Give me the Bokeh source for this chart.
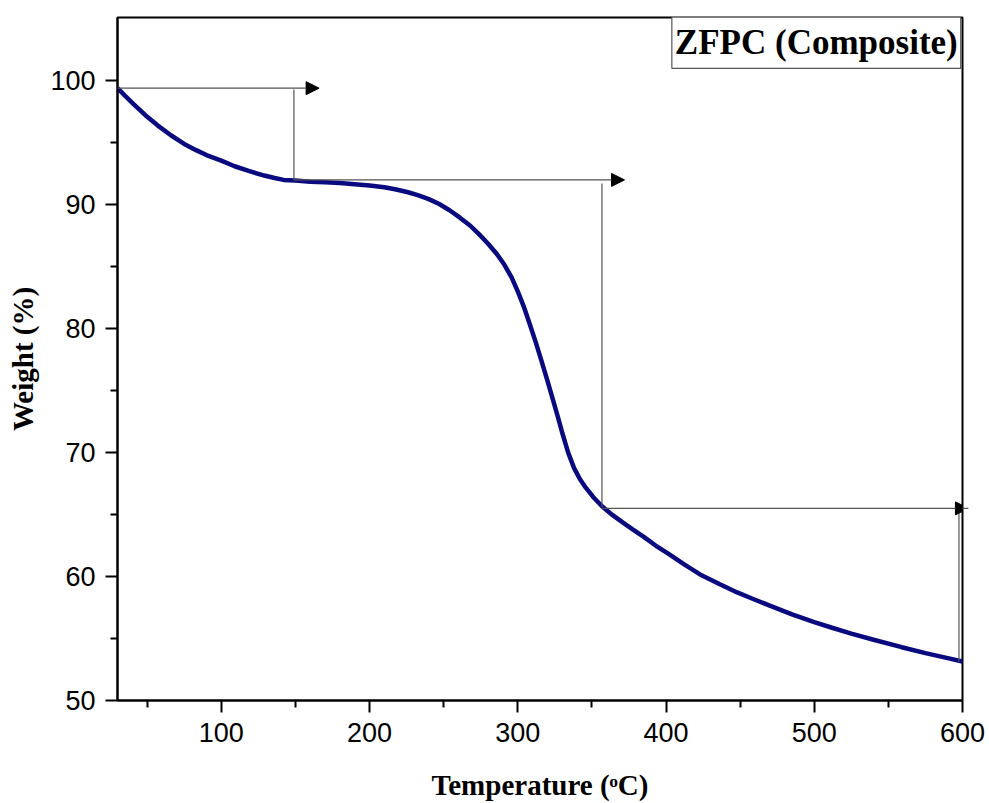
from bokeh.plotting import figure
from bokeh.models import Range1d, FixedTicker, Arrow, NormalHead, Label, ColumnDataSource
from bokeh.embed import file_html
from bokeh.resources import INLINE

# TGA curve
temperature = [30, 35, 41, 49, 57, 66, 75, 83, 90, 100, 109, 119, 129, 136, 142, 150, 160, 170,
               180, 190, 200, 210, 218, 226, 233, 240, 247, 254, 261, 268, 274, 280, 286, 291,
               296, 300, 304, 308, 312, 316, 320, 324, 327, 330, 334, 338, 342, 346, 351, 357,
               364, 371, 377, 385, 393, 402, 412, 424, 436, 448, 458, 470, 485, 500, 512, 525,
               540, 559, 575, 590, 600]
weight = [99.4, 98.8, 98.1, 97.2, 96.4, 95.6, 94.9, 94.4, 94.0, 93.55, 93.1, 92.7, 92.35, 92.15,
          92.0, 91.95, 91.85, 91.8, 91.75, 91.65, 91.55, 91.4, 91.22, 91.0, 90.75, 90.45, 90.05,
          89.55, 88.95, 88.3, 87.6, 86.85, 86.0, 85.15, 84.1, 83.0, 81.8, 80.4, 78.95, 77.4, 75.8,
          74.15, 72.9, 71.6, 70.0, 68.75, 67.85, 67.15, 66.4, 65.65, 64.95, 64.35, 63.85, 63.2,
          62.5, 61.8, 61.0, 60.1, 59.4, 58.72, 58.23, 57.65, 56.95, 56.32, 55.87, 55.4, 54.9,
          54.3, 53.82, 53.42, 53.15]

# step arrows (horizontal) and drop lines (vertical)
arrow_x_start = [30, 149, 357]
arrow_x_end = [166, 372, 604]
arrow_y = [99.4, 92.0, 65.5]
drop_x = [149, 356.8, 597.6]
drop_y_top = [99.3, 91.7, 65.3]
drop_y_bottom = [92.0, 65.6, 53.1]

x_major = [100, 200, 300, 400, 500, 600]
x_minor = [50, 150, 250, 350, 450, 550]
y_major = [50, 60, 70, 80, 90, 100]
y_minor = [55, 65, 75, 85, 95]

p = figure(width=989, height=803, output_backend="svg", toolbar_location=None,
           x_range=Range1d(30, 600), y_range=Range1d(50, 105.1),
           min_border_left=117, min_border_right=27, min_border_top=17, min_border_bottom=103)
p.background_fill_color = "white"
p.border_fill_color = "white"
p.outline_line_color = "black"
p.outline_line_width = 2
p.xgrid.visible = False
p.ygrid.visible = False

p.xaxis.ticker = FixedTicker(ticks=x_major, minor_ticks=x_minor)
p.yaxis.ticker = FixedTicker(ticks=y_major, minor_ticks=y_minor)

for ax in (p.xaxis[0], p.yaxis[0]):
    ax.axis_line_color = "black"
    ax.axis_line_width = 2
    ax.major_tick_line_color = "black"
    ax.major_tick_line_width = 2
    ax.minor_tick_line_color = "black"
    ax.minor_tick_line_width = 2
    ax.major_tick_in = 0
    ax.major_tick_out = 12
    ax.minor_tick_in = 0
    ax.minor_tick_out = 7
    ax.major_label_text_font = "Liberation Sans"
    ax.major_label_text_font_size = "27px"
    ax.major_label_text_color = "black"
    ax.major_label_standoff = 10
    ax.axis_label_text_font = "Liberation Serif"
    ax.axis_label_text_font_style = "bold"
    ax.axis_label_text_font_size = "29px"
    ax.axis_label_text_color = "black"

p.xaxis.axis_label = "Temperature (ᵒC)"
p.yaxis.axis_label = "Weight (%)"
p.xaxis.axis_label_standoff = 24
p.yaxis.axis_label_standoff = 8

p.line(temperature, weight, line_color="#0a0a80", line_width=4.5)

p.segment(x0=drop_x, y0=drop_y_top, x1=drop_x, y1=drop_y_bottom,
          line_color="#555555", line_width=1.2)

asrc = ColumnDataSource(dict(xs=arrow_x_start, xe=arrow_x_end, y=arrow_y))
p.add_layout(Arrow(x_start="xs", y_start="y", x_end="xe", y_end="y", source=asrc,
                   line_color="#555555", line_width=1.2,
                   end=NormalHead(size=13, fill_color="black", line_color="black", line_width=1)))

lbl = Label(x=598.8, y=105.6, text="ZFPC (Composite)", anchor="top_right",
            text_font="Liberation Serif", text_font_style="bold", text_font_size="35px",
            text_color="black", padding=dict(left=3, right=3, top=12, bottom=6),
            border_line_color="#555555", border_line_width=1.2,
            background_fill_color="white")
p.add_layout(lbl)

open("out.html", "w").write(file_html(p, INLINE))
